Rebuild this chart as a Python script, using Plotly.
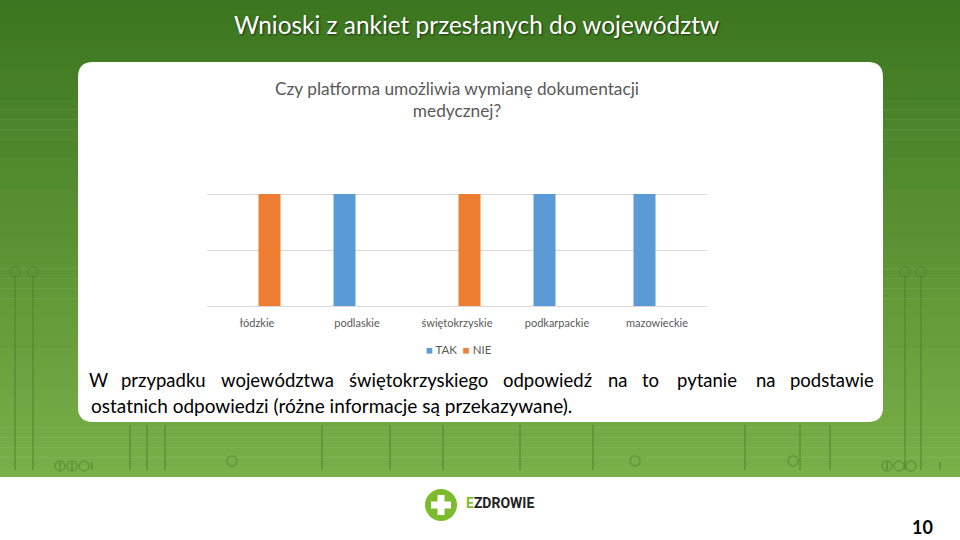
import plotly.graph_objects as go

categories = ["łódzkie", "podlaskie", "świętokrzyskie", "podkarpackie", "mazowieckie"]
tak_values = [None, 1, None, 1, 1]
nie_values = [1, None, 1, None, None]
series_names = ["TAK", "NIE"]
series_colors = ["#5b9bd5", "#ed7d31"]

slide_title = "Wnioski z ankiet przesłanych do województw"
chart_title = "Czy platforma umożliwia wymianę dokumentacji<br>medycznej?"
body_line1 = ["W", "przypadku", "województwa", "świętokrzyskiego", "odpowiedź",
              "na", "to", "pytanie", "na", "podstawie"]
body_line2 = "ostatnich odpowiedzi (różne informacje są przekazywane)."

W, H = 960, 540
FONT = "Lato"

fig = go.Figure()
for name, vals, col in zip(series_names, [tak_values, nie_values], series_colors):
    fig.add_trace(go.Bar(x=categories, y=vals, name=name,
                         marker=dict(color=col, line=dict(width=0))))


def px_x(x):
    return x / W


def px_y(y):
    return 1 - y / H


shapes = []
# green gradient background bands (top darker, bottom lighter)
top = (60, 118, 32)
bot = (122, 176, 72)
n = 48
for i in range(n):
    t = i / (n - 1)
    c = tuple(int(top[k] + (bot[k] - top[k]) * t) for k in range(3))
    y0 = 477 * i / n
    y1 = 477 * (i + 1) / n + 0.5
    shapes.append(dict(type="rect", xref="paper", yref="paper",
                       x0=0, x1=1, y0=px_y(y1), y1=px_y(y0),
                       fillcolor="rgb(%d,%d,%d)" % c, line=dict(width=0), layer="below"))

# faint circuit lines with small pads
circuit = [(15, 275), (33, 275), (60, 462), (72, 462), (92, 462), (130, 425), (147, 425),
           (165, 425), (322, 425), (390, 425), (443, 425), (520, 425), (593, 425),
           (745, 425), (800, 425), (830, 425), (887, 462), (905, 275), (921, 275), (940, 462)]
for xl, ytop in circuit:
    shapes.append(dict(type="line", xref="paper", yref="paper",
                       x0=px_x(xl), x1=px_x(xl), y0=px_y(470), y1=px_y(ytop),
                       line=dict(color="rgba(70,130,40,0.45)", width=2), layer="below"))
for xc, yc in [(15, 272), (33, 272), (905, 272), (921, 272), (60, 466), (72, 466), (84, 466),
               (887, 466), (899, 466), (911, 466), (232, 461), (635, 461), (793, 461)]:
    shapes.append(dict(type="circle", xref="paper", yref="paper",
                       x0=px_x(xc - 5), x1=px_x(xc + 5), y0=px_y(yc + 5), y1=px_y(yc - 5),
                       line=dict(color="rgba(70,130,40,0.5)", width=1.5), layer="below"))

# white footer strip
shapes.append(dict(type="rect", xref="paper", yref="paper", x0=0, x1=1,
                   y0=0, y1=px_y(477), fillcolor="white", line=dict(width=0), layer="below"))

# rounded white card
x0, x1, y0, y1, r = 78, 883, 62, 422, 15


def P(x, y):
    return "%.5f,%.5f" % (px_x(x), px_y(y))


path = ("M " + P(x0 + r, y0) + " L " + P(x1 - r, y0) +
        " Q " + P(x1, y0) + " " + P(x1, y0 + r) +
        " L " + P(x1, y1 - r) + " Q " + P(x1, y1) + " " + P(x1 - r, y1) +
        " L " + P(x0 + r, y1) + " Q " + P(x0, y1) + " " + P(x0, y1 - r) +
        " L " + P(x0, y0 + r) + " Q " + P(x0, y0) + " " + P(x0 + r, y0) + " Z")
shapes.append(dict(type="path", xref="paper", yref="paper", path=path,
                   fillcolor="white", line=dict(width=0), layer="below"))

# logo circle with plus
cx, cy, cr = 441, 505, 16
shapes.append(dict(type="circle", xref="paper", yref="paper",
                   x0=px_x(cx - cr), x1=px_x(cx + cr), y0=px_y(cy + cr), y1=px_y(cy - cr),
                   fillcolor="#7dbb2e", line=dict(width=0), layer="above"))
shapes.append(dict(type="rect", xref="paper", yref="paper",
                   x0=px_x(cx - 3.5), x1=px_x(cx + 3.5), y0=px_y(cy + 10), y1=px_y(cy - 10),
                   fillcolor="white", line=dict(width=0), layer="above"))
shapes.append(dict(type="rect", xref="paper", yref="paper",
                   x0=px_x(cx - 10), x1=px_x(cx + 10), y0=px_y(cy + 3.5), y1=px_y(cy - 3.5),
                   fillcolor="white", line=dict(width=0), layer="above"))

annotations = [
    dict(text=slide_title, x=px_x(476), y=px_y(25),
         xref="paper", yref="paper", showarrow=False, xanchor="center", yanchor="middle",
         font=dict(family=FONT, size=24.4, color="white", shadow="1px 1px 2px rgba(0,0,0,0.6)")),
    dict(text=chart_title, x=px_x(457), y=px_y(100),
         xref="paper", yref="paper", showarrow=False, xanchor="center", yanchor="middle",
         align="center", font=dict(family=FONT, size=17.3, color="#595959")),
    dict(text=body_line2, x=px_x(89), y=px_y(405), xref="paper", yref="paper", showarrow=False,
         xanchor="left", yanchor="middle", align="left",
         font=dict(family=FONT, size=19, color="black")),
    dict(text="<span style='color:#7dbb2e'>E</span>ZDROWIE", x=px_x(464), y=px_y(503),
         xref="paper", yref="paper", showarrow=False, xanchor="left", yanchor="middle",
         font=dict(family="Roboto", size=14, color="#222222", weight="bold")),
    dict(text="<b>10</b>", x=px_x(922), y=px_y(527), xref="paper", yref="paper",
         showarrow=False, xanchor="center", yanchor="middle",
         font=dict(family=FONT, size=18, color="black")),
    # legend drawn compactly like the original
    dict(text="<span style='color:%s'>■</span> %s  <span style='color:%s'>■</span> %s"
              % (series_colors[0], series_names[0], series_colors[1], series_names[1]),
         x=px_x(459), y=px_y(349), xref="paper", yref="paper", showarrow=False,
         xanchor="center", yanchor="middle",
         font=dict(family=FONT, size=11.5, color="#595959")),
]

# justified first body line: word centres along the line (last word right-aligned)
word_centres = [98, 163, 277, 418, 547, 617.5, 650, 707, 766, 876]
for i, (word, xc) in enumerate(zip(body_line1, word_centres)):
    last = i == len(body_line1) - 1
    annotations.append(dict(text=word, x=px_x(xc), y=px_y(380), xref="paper", yref="paper",
                            showarrow=False, xanchor="right" if last else "center",
                            yanchor="middle",
                            font=dict(family=FONT, size=18.5, color="black")))

fig.update_layout(
    width=W, height=H, margin=dict(l=0, r=0, t=0, b=0),
    paper_bgcolor="white", plot_bgcolor="rgba(0,0,0,0)",
    barmode="group", bargap=0.5, bargroupgap=0.12,
    shapes=shapes, annotations=annotations,
    showlegend=False,
    xaxis=dict(domain=[px_x(207), px_x(707)], showgrid=False, showline=False,
               ticks="", ticklabelstandoff=9,
               tickfont=dict(family=FONT, size=11, color="#595959")),
    yaxis=dict(domain=[px_y(306), px_y(138)], range=[0, 1.5005], dtick=0.5,
               showticklabels=False, showgrid=True, gridcolor="#d9d9d9", gridwidth=1,
               zeroline=True, zerolinecolor="#d9d9d9", zerolinewidth=1, showline=False),
)

fig.write_html("out.html")
